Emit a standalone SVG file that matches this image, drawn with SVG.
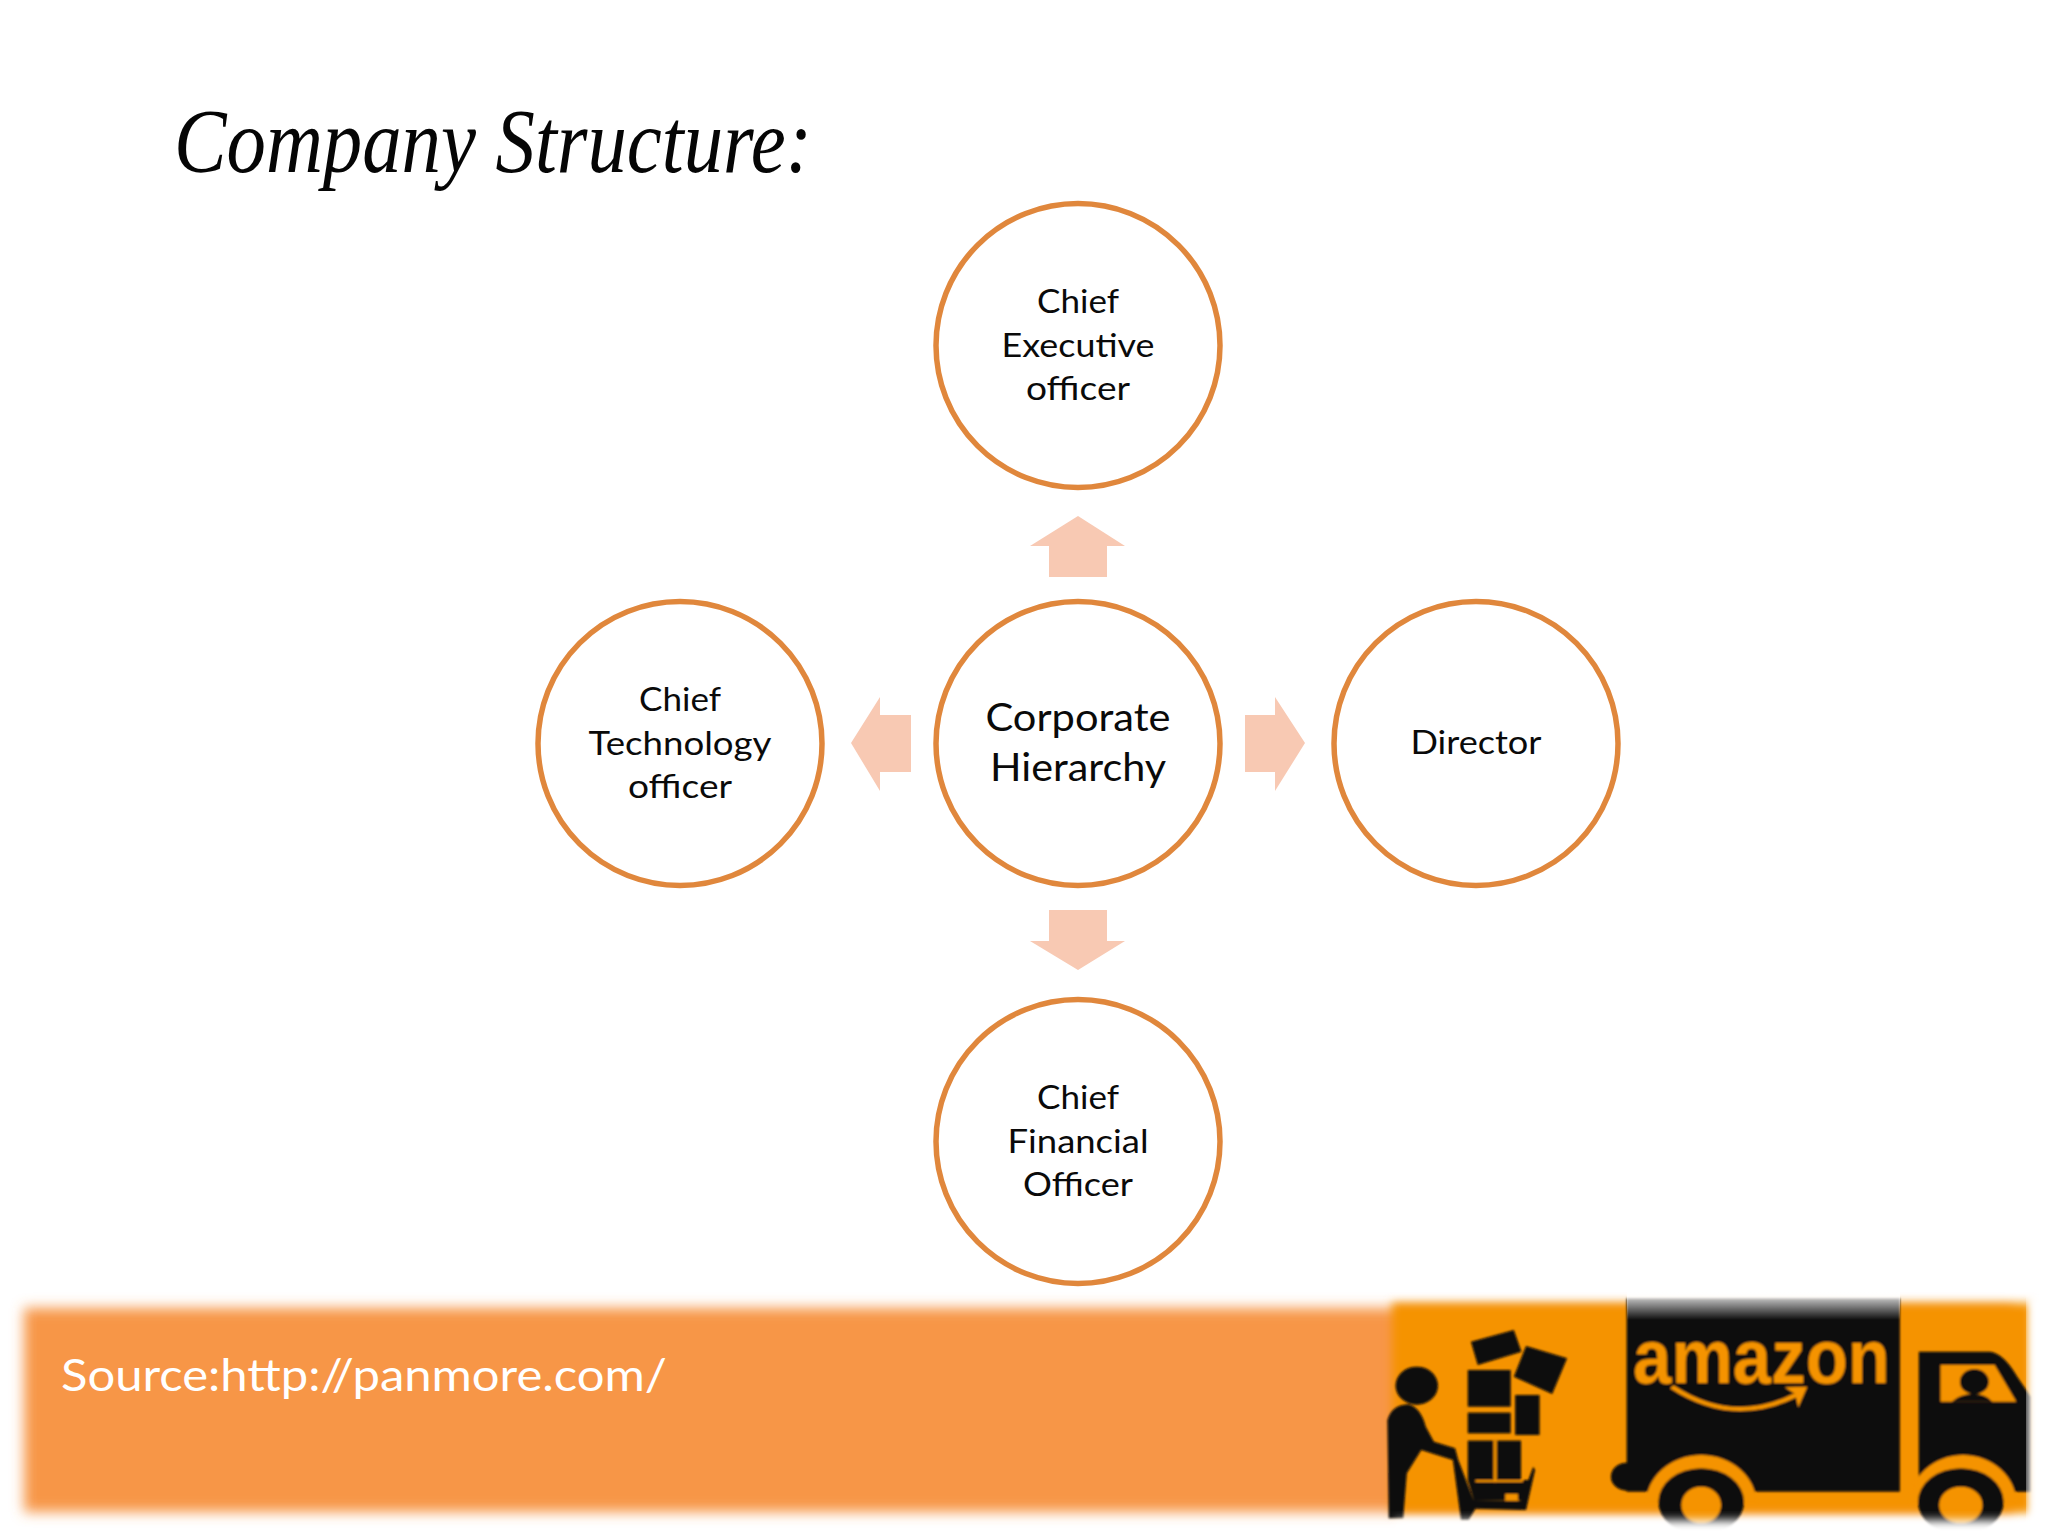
<svg xmlns="http://www.w3.org/2000/svg" width="2048" height="1536" viewBox="0 0 2048 1536">
<style>
.n{fill:#fff;stroke:#e0873c;stroke-width:5.5}
.t{font-family:"Lato","Liberation Sans",sans-serif;font-size:33.5px;fill:#0a0a0a;text-anchor:middle}
.c{font-size:38px}
.a{fill:#f8c9b3}
.k{fill:#08080c}
.o{fill:#f59300}
</style>
<defs>
<filter id="soft" x="-5%" y="-15%" width="110%" height="130%"><feGaussianBlur stdDeviation="6.500"/></filter>
<filter id="softer" x="-5%" y="-5%" width="110%" height="110%"><feGaussianBlur stdDeviation="1.3"/></filter>
<filter id="edge" x="-5%" y="-30%" width="110%" height="160%"><feGaussianBlur stdDeviation="5"/></filter>
<linearGradient id="fadeTop" x1="0" y1="0" x2="0" y2="1"><stop offset="0" stop-color="#fff" stop-opacity=".95"/><stop offset="1" stop-color="#fff" stop-opacity="0"/></linearGradient>
</defs>
<rect width="2048" height="1536" fill="#fff"/>
<g id="title"><text x="174" y="172" font-family="'Liberation Serif',serif" font-style="italic" font-size="92" fill="#050505" textLength="638" lengthAdjust="spacingAndGlyphs">Company Structure:</text></g>
<g id="connectors">
<polygon class="a" points="1078,516 1125,546 1107,546 1107,577 1049,577 1049,546 1030,546"/>
<polygon class="a" points="851,743 880,697 880,715 911,715 911,772 880,772 880,791"/>
<polygon class="a" points="1305,743 1275,697 1275,715 1245,715 1245,772 1275,772 1275,791"/>
<polygon class="a" points="1078,970 1125,941 1107,941 1107,910 1049,910 1049,941 1030,941"/>
</g>
<g id="node-ceo"><circle class="n" cx="1078" cy="345.500" r="142"/>
<text class="t" x="1078" y="313" textLength="82" lengthAdjust="spacingAndGlyphs">Chief</text>
<text class="t" x="1078" y="357" textLength="153" lengthAdjust="spacingAndGlyphs">Executive</text>
<text class="t" x="1078" y="400" textLength="104" lengthAdjust="spacingAndGlyphs">officer</text></g>
<g id="node-cto"><circle class="n" cx="680" cy="743.500" r="142"/>
<text class="t" x="680" y="711" textLength="82" lengthAdjust="spacingAndGlyphs">Chief</text>
<text class="t" x="680" y="755" textLength="183" lengthAdjust="spacingAndGlyphs">Technology</text>
<text class="t" x="680" y="798" textLength="104" lengthAdjust="spacingAndGlyphs">officer</text></g>
<g id="node-corporate"><circle class="n" cx="1078" cy="743.500" r="142"/>
<text class="t c" x="1078" y="731" textLength="185" lengthAdjust="spacingAndGlyphs">Corporate</text>
<text class="t c" x="1078" y="781" textLength="176" lengthAdjust="spacingAndGlyphs">Hierarchy</text></g>
<g id="node-director"><circle class="n" cx="1476" cy="743.500" r="142"/>
<text class="t" x="1476" y="754" textLength="131" lengthAdjust="spacingAndGlyphs">Director</text></g>
<g id="node-cfo"><circle class="n" cx="1078" cy="1141.500" r="142"/>
<text class="t" x="1078" y="1109" textLength="82" lengthAdjust="spacingAndGlyphs">Chief</text>
<text class="t" x="1078" y="1153" textLength="141" lengthAdjust="spacingAndGlyphs">Financial</text>
<text class="t" x="1078" y="1196" textLength="110" lengthAdjust="spacingAndGlyphs">Officer</text></g>
<g id="banner">
<rect x="24" y="1308" width="1990" height="204" fill="#f79646" filter="url(#soft)"/>
<text x="61" y="1391" font-family="Lato,'Liberation Sans',sans-serif" font-size="44" fill="#fff" textLength="606" lengthAdjust="spacingAndGlyphs">Source:http://panmore.com/</text>
</g>
<g id="logo">
<rect x="1392" y="1303" width="640" height="210" class="o" filter="url(#edge)"/>
<g filter="url(#softer)">
<g transform="translate(1340 1270) scale(.4515 .3333)">
<rect class="k" x="635" y="85" width="605" height="580"/>
<ellipse class="k" cx="635" cy="620" rx="35" ry="42"/>
<path class="k" d="M1282 245H1440Q1470 250 1500 320L1530 380V665H1282Z"/>
<polygon class="o" points="1330,285 1450,285 1498,395 1330,395"/>
<ellipse class="k" cx="1405" cy="335" rx="32" ry="38"/>
<path class="k" d="M1355 395Q1375 370 1405 372Q1430 372 1445 395Z"/>
<path class="o" d="M678 700A122 145 0 0 1 922 700Z"/>
<path class="o" d="M1262 700A118 145 0 0 1 1498 700Z"/>
<ellipse class="k" cx="800" cy="695" rx="95" ry="100"/>
<ellipse class="k" cx="1375" cy="695" rx="95" ry="100"/>
<ellipse class="o" cx="800" cy="705" rx="44" ry="55"/>
<ellipse class="o" cx="1375" cy="705" rx="48" ry="55"/>
<ellipse class="k" cx="170" cy="347" rx="47" ry="57"/>
<path class="k" d="M105 450Q115 405 150 403Q178 410 190 470L208 515L255 535L262 570L296 690L400 692L428 590L432 600L412 720L300 716L285 750H268L250 570L180 540L148 610L140 745H108Z"/>
<polygon class="k" points="290,215 385,180 402,245 305,285"/>
<polygon class="k" points="412,228 503,265 470,372 385,320"/>
<rect class="k" x="283" y="300" width="95" height="110"/>
<rect class="k" x="283" y="428" width="95" height="62"/>
<rect class="k" x="283" y="512" width="118" height="120"/>
<rect class="k" x="388" y="375" width="54" height="120"/>
<path class="k" d="M283 630H420L405 690H296Z"/>
<rect class="o" x="340" y="512" width="7" height="125"/>
<rect class="o" x="300" y="630" width="105" height="6"/>
<rect class="o" x="366" y="672" width="28" height="20"/>
<path d="M735 350Q870 470 1010 375" fill="none" stroke="#f59300" stroke-width="12"/>
<polygon class="o" points="985,352 1035,350 1015,412 1008,372"/>
</g>
<text x="1633" y="1383" font-family="'Liberation Sans',sans-serif" font-weight="700" font-size="76" fill="#f59300" textLength="257" lengthAdjust="spacingAndGlyphs">amazon</text>
</g>
<rect x="1627" y="1292" width="273" height="28" fill="url(#fadeTop)"/>
<rect x="1395" y="1520" width="653" height="30" fill="#fff" filter="url(#edge)"/>
<rect x="2028" y="1295" width="30" height="240" fill="#fff" filter="url(#edge)"/>
</g>
</svg>
